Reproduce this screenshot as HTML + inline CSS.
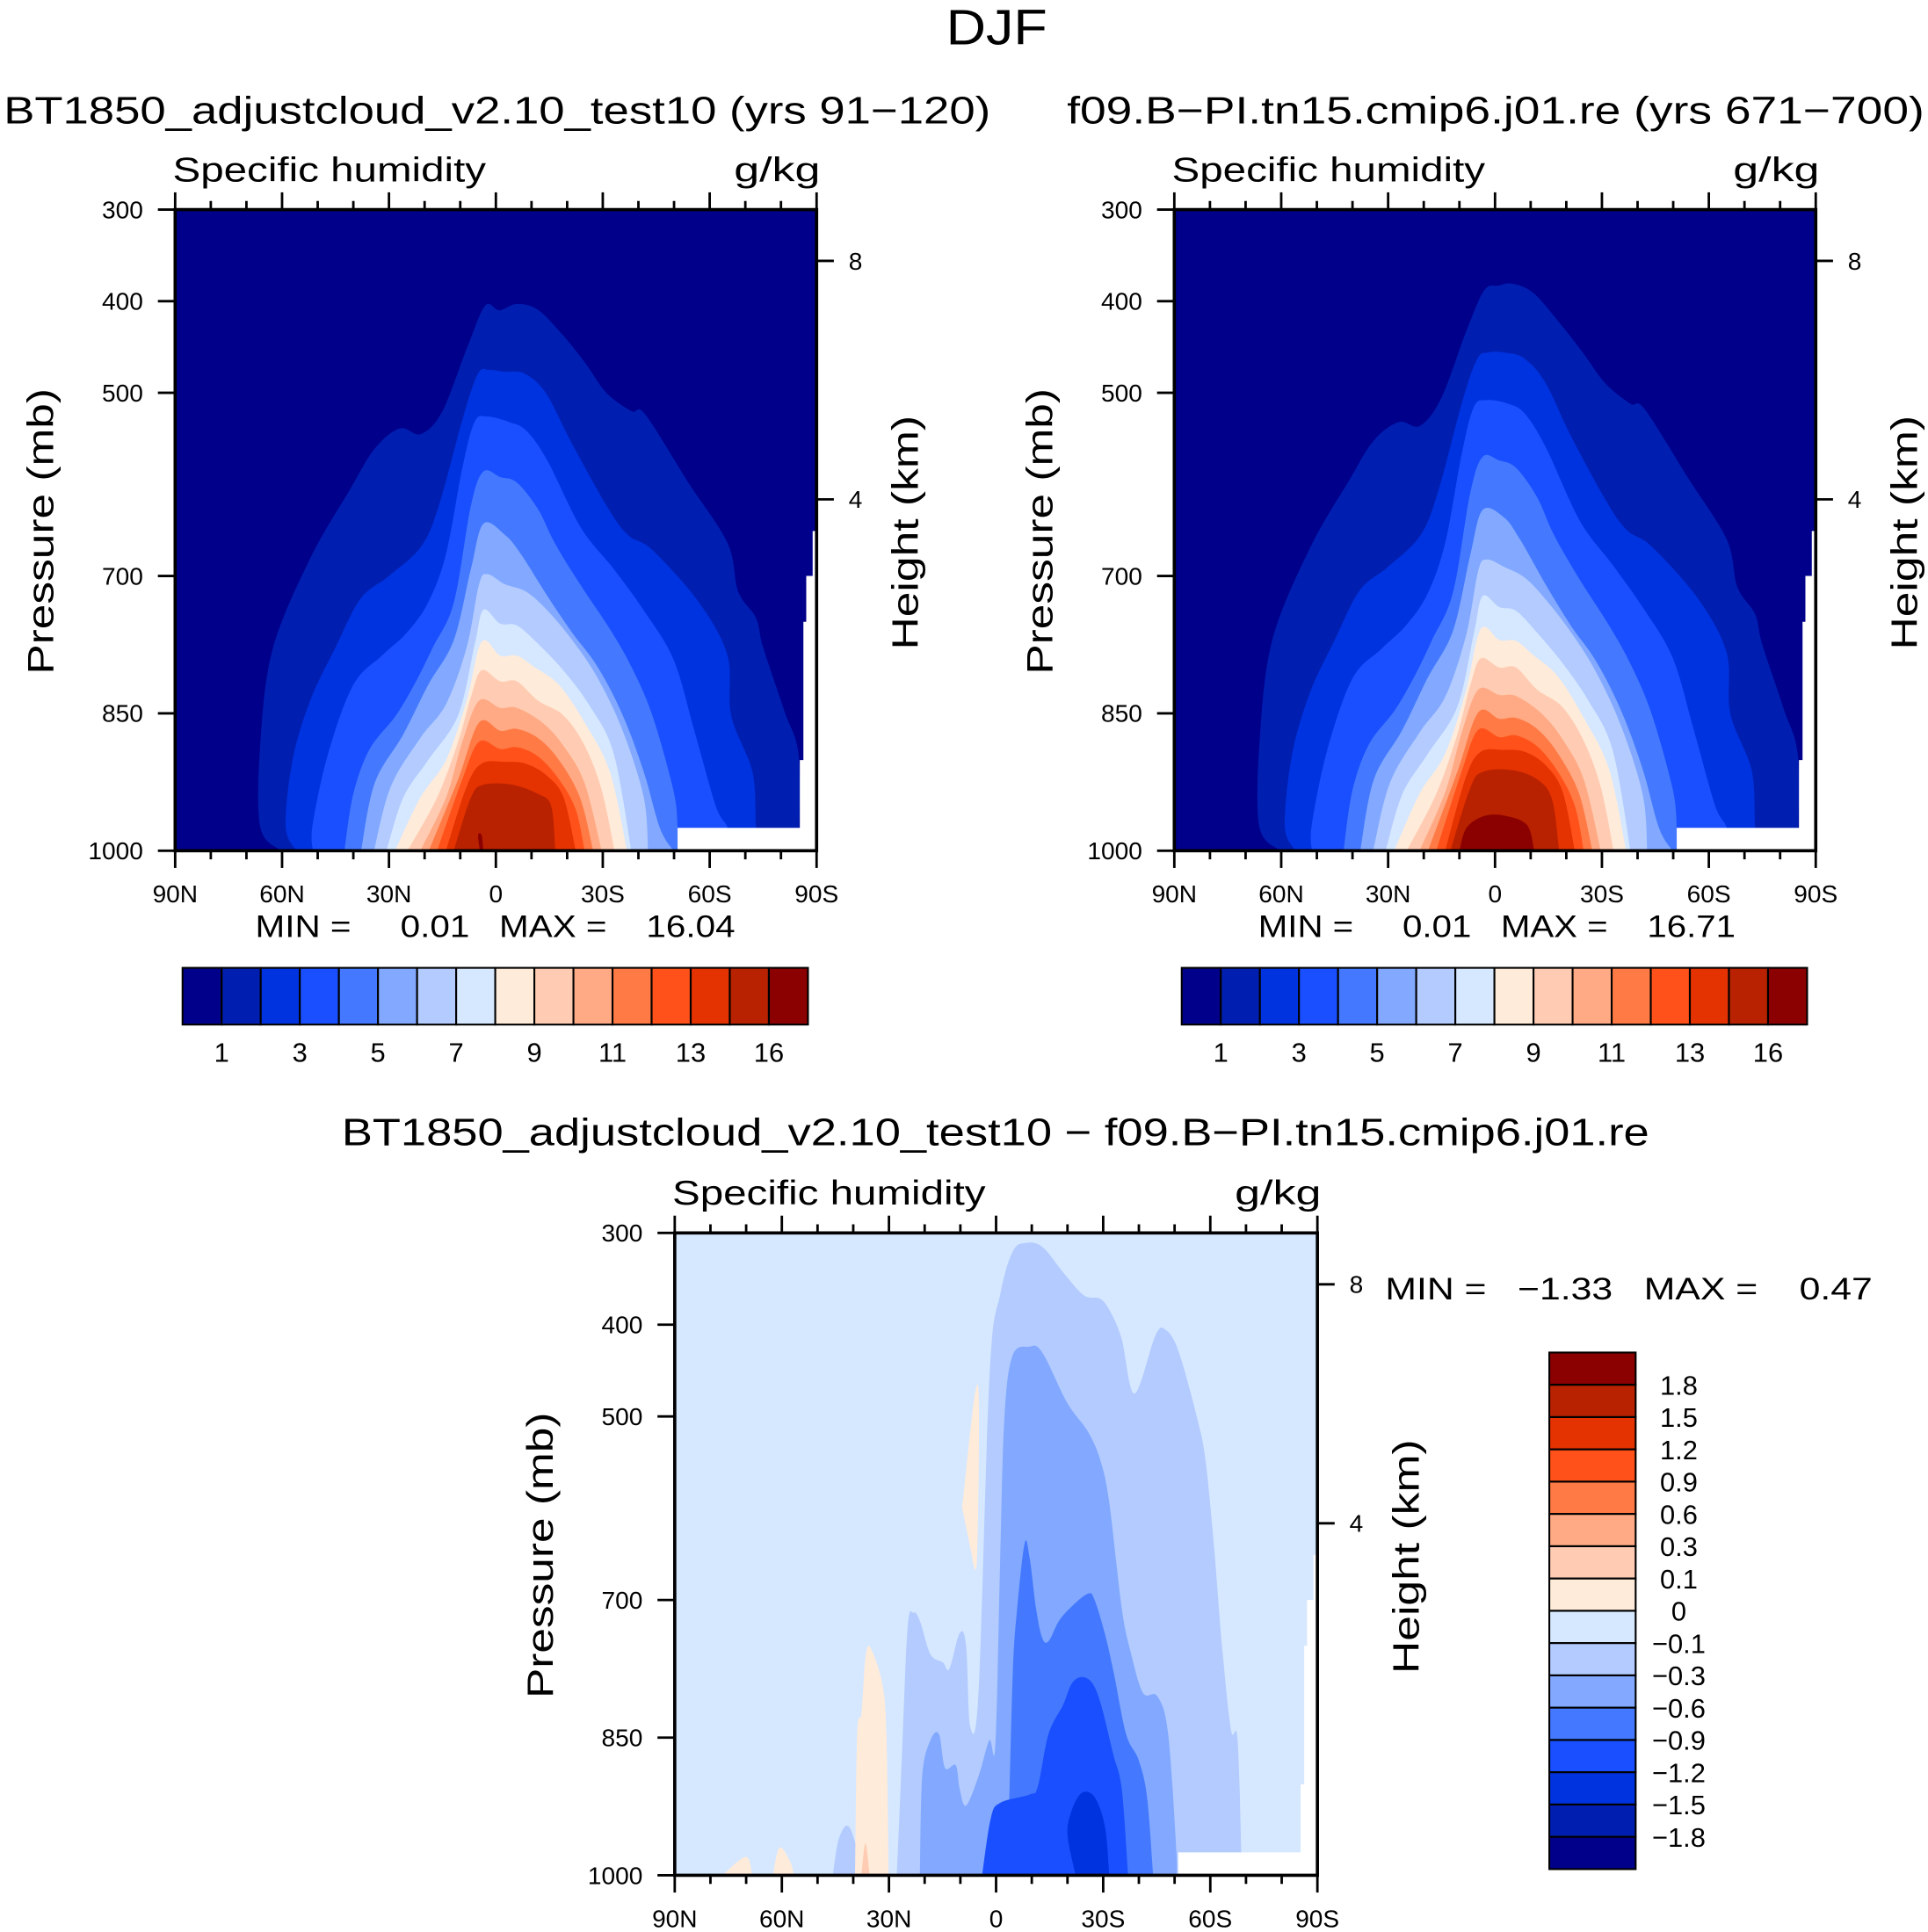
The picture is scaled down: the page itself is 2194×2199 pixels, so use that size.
<!DOCTYPE html>
<html><head><meta charset="utf-8"><title>DJF Specific humidity</title>
<style>html,body{margin:0;padding:0;background:#fff}svg{display:block}text{font-family:"Liberation Sans",sans-serif;fill:#000}</style>
</head><body>
<svg id="fig" xmlns="http://www.w3.org/2000/svg" width="2194" height="2199" viewBox="0 0 1563 1567" preserveAspectRatio="none">
<text x="808" y="36" font-size="40" text-anchor="middle" textLength="82" lengthAdjust="spacingAndGlyphs">DJF</text>
<text x="3" y="100" font-size="31" textLength="800" lengthAdjust="spacingAndGlyphs">BT1850_adjustcloud_v2.10_test10 (yrs 91−120)</text>
<text x="865" y="100" font-size="31" textLength="695" lengthAdjust="spacingAndGlyphs">f09.B−PI.tn15.cmip6.j01.re (yrs 671−700)</text>
<text x="277" y="929" font-size="31" textLength="1060" lengthAdjust="spacingAndGlyphs">BT1850_adjustcloud_v2.10_test10 − f09.B−PI.tn15.cmip6.j01.re</text>
<g id="layer"></g>
</svg>
<script>
// ---------- data ----------
const seqColors = ["#00008b","#001fb0","#0033e0","#1a4fff","#4479ff","#82a9ff","#b3cbff","#d6e8ff","#ffebd9","#ffccb3","#ffaa84","#ff7a45","#ff5119","#e43200","#b82200","#8b0000"];
const seqLabels = ["1","3","5","7","9","11","13","16"];
const diffLabels = ["1.8","1.5","1.2","0.9","0.6","0.3","0.1","0","−0.1","−0.3","−0.6","−0.9","−1.2","−1.5","−1.8"];
const latTicks = [90,60,30,0,-30,-60,-90];
const latTickLabels = ["90N","60N","30N","0","30S","60S","90S"];
const presTicks = [300,400,500,700,850,1000];
const heightTicks = [8,4];
const topoOutline = [[-51,1000],[-51,975],[-85.3,975],[-85.3,901],[-86.3,901],[-86.3,750],[-87.1,750],[-87.1,700],[-88.9,700],[-88.9,651],[-90,651],[-90,1000]];

const panel1Contours = [
 [1,[[60.3,1000],[66.2,973],[66,877],[62.5,778],[52,680],[41,606],[34,561],[27,539],[21,545],[15,520],[8,450],[3,405],[-1,410],[-6,403],[-12,410],[-19,438],[-25,467],[-31,500],[-38,520],[-42,524],[-54,598],[-65,664],[-68,717],[-73,746],[-75,778],[-81,848],[-85,897],[-85,1000]]],
 [2,[[56,1000],[59,973],[57,900],[52,835],[45,778],[38,725],[30,700],[21,668],[16,623],[9,524],[5,479],[2,475],[-2.5,477],[-8,479],[-14,500],[-21,553],[-31,623],[-37,655],[-44,672],[-57,729],[-65,787],[-66,852],[-72,914],[-73,975],[-74,1000]]],
 [3,[[51.4,1000],[51.4,971],[47,893],[40,819],[32,787],[25,762],[19,729],[14,676],[9.4,582],[6,532],[2.4,526],[-3.7,532],[-8.4,541],[-14.3,573],[-23.8,647],[-33,692],[-41.4,737],[-49.8,791],[-55.7,869],[-61.7,951],[-65,975],[-65,1000]]],
 [4,[[42.5,1000],[40,938],[35.4,889],[28,852],[22.4,815],[17.7,778],[11.8,729],[7,623],[3.5,586],[-1.2,592],[-5.9,598],[-11.8,627],[-16.5,664],[-23.6,709],[-32,758],[-38,799],[-43.9,852],[-49.8,934],[-51,975],[-51,1000]]],
 [5,[[37.8,1000],[34,926],[26,873],[19,819],[11.8,770],[7,692],[3.5,643],[-2.5,655],[-7,676],[-14.3,721],[-21.4,762],[-28.5,799],[-35.6,852],[-41.5,914],[-46,975],[-49.8,1000]]],
 [6,[[34.2,1000],[29.5,930],[21.2,877],[14,840],[8.2,778],[4.7,709],[2.3,698],[-2.5,709],[-8.4,717],[-14.3,737],[-21.4,770],[-28.5,811],[-35.6,869],[-41.5,942],[-42.7,1000]]],
 [7,[[30.7,1000],[26,942],[19,901],[10.6,852],[5.9,774],[3.5,737],[-1.2,752],[-5.9,754],[-11.8,774],[-18.9,803],[-26,840],[-33,893],[-38,1000]]],
 [8,[[28.3,1000],[21.2,942],[14,901],[8.2,836],[4,772],[-1.2,787],[-5.9,787],[-10.6,799],[-17.7,819],[-24.9,860],[-32,914],[-36.8,1000]]],
 [9,[[24.8,1000],[16.5,942],[10.6,881],[7,832],[4,803],[-1.2,815],[-5.9,815],[-11.8,836],[-18.9,852],[-24.9,885],[-29.7,934],[-33.3,1000]]],
 [10,[[21.2,1000],[14,942],[9.4,881],[4.7,836],[-1.2,844],[-5.9,844],[-13,860],[-18.9,885],[-24.9,926],[-29.7,1000]]],
 [11,[[18.8,1000],[10.6,922],[4.7,860],[-1.2,869],[-5.9,867],[-11.8,877],[-17.7,901],[-23.6,942],[-27.3,1000]]],
 [12,[[16.5,1000],[9.4,922],[4.7,881],[-1.2,889],[-5.9,887],[-11.8,897],[-17.7,922],[-22.4,955],[-24.9,1000]]],
 [13,[[14,1000],[8.2,930],[4,905],[-2.5,903],[-8.4,905],[-14.3,918],[-19,942],[-22.4,1000]]],
 [14,[[11.8,1000],[7,942],[3.5,928],[-4.7,928],[-11.8,938],[-15.5,951],[-16.7,1000]]],
 [15,[[4.5,1000],[5,983],[4,983],[3.5,1000]]]
];
const panel2Contours = [
 [1,[[60.3,1000],[66.2,973],[66,877],[62.5,770],[52,670],[41,596],[34,552],[27,532],[21,536],[15,505],[8,432],[3,388],[-1,383],[-5,381],[-11,392],[-19,428],[-25,458],[-31,490],[-38,512],[-42,518],[-54,592],[-65,660],[-68,712],[-73,742],[-75,775],[-81,845],[-85,897],[-85,1000]]],
 [2,[[56,1000],[59,973],[57,896],[52,828],[45,770],[38,716],[30,690],[21,656],[16,608],[9,507],[5,463],[2,456],[-2.5,456],[-8,462],[-14,488],[-21,545],[-31,617],[-37,650],[-44,668],[-57,725],[-65,784],[-66,850],[-72,912],[-73,975],[-74,1000]]],
 [3,[[51.4,1000],[51.4,971],[47,889],[40,812],[32,780],[25,754],[19,720],[14,664],[9.4,568],[6,516],[2.4,508],[-3.7,512],[-8.4,523],[-14.3,560],[-23.8,640],[-33,688],[-41.4,734],[-49.8,789],[-55.7,867],[-61.7,950],[-65,975],[-65,1000]]],
 [4,[[42.5,1000],[40,934],[35.4,884],[28,846],[22.4,808],[17.7,770],[11.8,718],[7,610],[3.5,570],[-1.2,574],[-5.9,582],[-11.8,614],[-16.5,655],[-23.6,703],[-32,754],[-38,796],[-43.9,850],[-49.8,932],[-51,975],[-51,1000]]],
 [5,[[37.8,1000],[34,922],[26,868],[19,812],[11.8,760],[7,678],[3.5,628],[-2.5,636],[-7,660],[-14.3,710],[-21.4,755],[-28.5,794],[-35.6,849],[-41.5,912],[-46,975],[-49.8,1000]]],
 [6,[[34.2,1000],[29.5,926],[21.2,871],[14,832],[8.2,766],[4.7,694],[2.3,682],[-2.5,690],[-8.4,702],[-14.3,726],[-21.4,762],[-28.5,806],[-35.6,866],[-41.5,940],[-42.7,1000]]],
 [7,[[30.7,1000],[26,938],[19,895],[10.6,843],[5.9,762],[3.5,722],[-1.2,734],[-5.9,738],[-11.8,762],[-18.9,795],[-26,835],[-33,890],[-38,1000]]],
 [8,[[28.3,1000],[21.2,938],[14,894],[8.2,826],[4,758],[-1.2,770],[-5.9,771],[-10.6,786],[-17.7,810],[-24.9,855],[-32,911],[-36.8,1000]]],
 [9,[[24.8,1000],[16.5,938],[10.6,873],[7,820],[4,790],[-1.2,800],[-5.9,800],[-11.8,824],[-18.9,843],[-24.9,880],[-29.7,931],[-33.3,1000]]],
 [10,[[21.2,1000],[14,936],[9.4,872],[4.7,824],[-1.2,830],[-5.9,831],[-13,850],[-18.9,878],[-24.9,922],[-29.7,1000]]],
 [11,[[18.8,1000],[10.6,914],[4.7,849],[-1.2,856],[-5.9,855],[-11.8,867],[-17.7,894],[-23.6,938],[-27.3,1000]]],
 [12,[[16.5,1000],[9.4,914],[4.7,868],[-1.2,876],[-5.9,874],[-11.8,886],[-17.7,914],[-22.4,951],[-24.9,1000]]],
 [13,[[14,1000],[8.2,920],[4,892],[-2.5,890],[-8.4,892],[-14.3,907],[-19,936],[-22.4,1000]]],
 [14,[[12.5,1000],[7,932],[3.5,914],[-4.7,912],[-11.8,922],[-16,944],[-18,1000]]],
 [15,[[10,1000],[8,975],[3,962],[-3,962],[-9,972],[-11,1000]]]
];
const panel3Contours = [
 [6,[[27.8,1000],[26.6,892],[24.8,732],[23.1,714],[21.3,723],[18.4,759],[14.9,768],[13.1,775],[10.2,736],[8.4,750],[7.3,837],[4.9,800],[1.8,453],[-1.2,366],[-4.7,320],[-8.2,311],[-12.9,315],[-18.8,343],[-24.6,368],[-29.3,372],[-32.3,388],[-35.2,416],[-38.8,475],[-44.7,411],[-47.6,406],[-51.1,429],[-56.4,503],[-58.7,549],[-61.1,645],[-63.4,755],[-65.8,842],[-67.6,851],[-68.7,975],[-68.7,1000]]],
 [6,[[45.7,1000],[44,960],[41,948],[37,1000]]],
 [5,[[21.3,1000],[20.7,892],[18.4,853],[16,846],[14.3,883],[11.3,880],[10.2,906],[8.4,924],[4.9,892],[1.9,853],[0.2,858],[-1.1,663],[-2.3,503],[-4.6,434],[-9.3,424],[-12.9,430],[-19.9,485],[-25.8,517],[-29.3,549],[-31.7,594],[-35.2,709],[-37.6,755],[-41.1,801],[-45.2,805],[-48.2,846],[-50.5,975],[-50.5,1000]]],
 [4,[[-2.3,1000],[-3.5,938],[-4.7,778],[-5.9,709],[-8,638],[-9.4,654],[-11.2,709],[-12.9,741],[-14.7,745],[-17.6,723],[-21.2,707],[-25.8,693],[-27.6,700],[-30.5,737],[-32.9,778],[-36.4,846],[-39.9,874],[-42.3,915],[-44,1000]]],
 [3,[[3.9,1000],[1.5,938],[-1.2,921],[-9.4,912],[-11.7,903],[-14.7,846],[-18.8,814],[-21.2,791],[-24.1,784],[-27,791],[-29.4,814],[-32.9,869],[-35.2,906],[-37,1000]]],
 [2,[[-22.3,1000],[-20,956],[-21.2,929],[-24.1,910],[-27.6,915],[-30.5,947],[-31.7,1000]]],
 [8,[[39.5,1000],[38.9,846],[37.7,823],[36.6,763],[35.2,752],[31.9,791],[30.7,846],[30.1,1000]]],
 [8,[[9.5,599],[6,478],[4.8,489],[5.4,658],[7.1,645]]],
 [8,[[76.6,1000],[70.1,980],[68.3,1000]]],
 [8,[[62.5,1000],[60.7,970],[57.8,984],[56.6,1000]]],
 [9,[[37.7,1000],[36.6,965],[35.4,1000]]]
];

// ---------- drawing ----------
const NS = "http://www.w3.org/2000/svg";
const layer = document.getElementById('layer');
function mk(tag, attrs, parent){ const e=document.createElementNS(NS,tag); for(const k in attrs) e.setAttribute(k,attrs[k]); (parent||layer).appendChild(e); return e; }
function xScale(P,lat){ return P.x0 + (90-lat)/180*P.w; }
function yScale(P,p){ return P.y0 + (p-300)/700*P.h; }
function hToP(km){ return 1013.25*Math.pow(1-2.2557e-5*km*1000,5.256); }
function smoothPath(pts){
  let d = "M"+pts[0][0].toFixed(1)+","+pts[0][1].toFixed(1);
  for(let i=0;i<pts.length-1;i++){
    const p0=pts[Math.max(0,i-1)],p1=pts[i],p2=pts[i+1],p3=pts[Math.min(pts.length-1,i+2)];
    const c1x=p1[0]+(p2[0]-p0[0])/6,c1y=p1[1]+(p2[1]-p0[1])/6,c2x=p2[0]-(p3[0]-p1[0])/6,c2y=p2[1]-(p3[1]-p1[1])/6;
    d+="C"+c1x.toFixed(1)+","+c1y.toFixed(1)+" "+c2x.toFixed(1)+","+c2y.toFixed(1)+" "+p2[0].toFixed(1)+","+p2[1].toFixed(1);
  }
  return d+"Z";
}
function drawPanel(P){
  const g = mk('g',{});
  
  
  const clip = mk('clipPath',{id:'clip'+P.id}, g);
  mk('rect',{x:P.x0,y:P.y0,width:P.w,height:P.h},clip);
  const plot = mk('g',{'clip-path':'url(#clip'+P.id+')'},g);
  const bg = mk('rect',{x:P.x0,y:P.y0,width:P.w,height:P.h,fill:seqColors[P.bg]},plot);
  
  
  P.contours.forEach(function(c,i){
    const pts = c[1].map(function(q){return [xScale(P,q[0]), yScale(P,q[1])];});
    const path = mk('path',{d:smoothPath(pts),fill:seqColors[c[0]]},plot);
    
    
  });
  const topo = mk('polygon',{points:topoOutline.map(function(q){return xScale(P,q[0]).toFixed(1)+","+yScale(P,q[1]).toFixed(1);}).join(" "),fill:"#fff"},plot);
  
  
  const frame = mk('rect',{x:P.x0,y:P.y0,width:P.w,height:P.h,fill:"none",stroke:"#000","stroke-width":2.6},g);
  
  
  const xb = P.y0+P.h, xt = P.y0;
  for(let lat=90;lat>=-90;lat-=10){
    const x = xScale(P,lat), major = (lat%30===0), L = major?14:7;
    mk('line',{x1:x,y1:xb,x2:x,y2:xb+L,stroke:"#000","stroke-width":2},g);
    mk('line',{x1:x,y1:xt,x2:x,y2:xt-L,stroke:"#000","stroke-width":2},g);
  }
  latTicks.forEach(function(lat,i){
    const t = mk('text',{x:xScale(P,lat),y:xb+42,'font-size':20,'text-anchor':'middle'},g);
    
    
    t.textContent = latTickLabels[i];
  });
  presTicks.forEach(function(p){
    const y = yScale(P,p);
    mk('line',{x1:P.x0,y1:y,x2:P.x0-14,y2:y,stroke:"#000","stroke-width":2},g);
    const t = mk('text',{x:P.x0-26,y:y+7,'font-size':20,'text-anchor':'end'},g);
    
    
    t.textContent = String(p);
  });
  heightTicks.forEach(function(h){
    const y = yScale(P,hToP(h)), xr = P.x0+P.w;
    mk('line',{x1:xr,y1:y,x2:xr+14,y2:y,stroke:"#000","stroke-width":2},g);
    const t = mk('text',{x:xr+26,y:y+7,'font-size':20},g);
    
    
    t.textContent = String(h);
  });
  const cy = P.y0+P.h/2;
  let t = mk('text',{x:0,y:0,'font-size':30,'text-anchor':'middle',textLength:232,lengthAdjust:'spacingAndGlyphs',transform:'translate('+(P.x0-99)+','+(cy+1)+') rotate(-90)'},g);
  
  
  t.textContent='Pressure (mb)';
  t = mk('text',{x:0,y:0,'font-size':30,'text-anchor':'middle',textLength:190,lengthAdjust:'spacingAndGlyphs',transform:'translate('+(P.x0+P.w+82)+','+(cy+2)+') rotate(-90)'},g);
  
  
  t.textContent='Height (km)';
  t = mk('text',{x:P.x0-2,y:P.y0-23,'font-size':28,textLength:254,lengthAdjust:'spacingAndGlyphs'},g);
  
  
  t.textContent='Specific humidity';
  t = mk('text',{x:P.x0+P.w+3,y:P.y0-23,'font-size':28,'text-anchor':'end',textLength:70,lengthAdjust:'spacingAndGlyphs'},g);
  
  
  t.textContent='g/kg';
  t = mk('text',{x:P.mmX,y:P.mmY,'font-size':25,style:'white-space:pre',textLength:P.mmW,lengthAdjust:'spacingAndGlyphs'},g);
  
  
  t.textContent=P.mm;
}
const panels = [
 {id:1,name:'panel-case',x0:142,y0:170,w:520,h:520,bg:0,contours:panel1Contours,mm:'MIN =     0.01   MAX =    16.04',mmX:207,mmY:760,mmW:389},
 {id:2,name:'panel-control',x0:952,y0:170,w:520,h:520,bg:0,contours:panel2Contours,mm:'MIN =     0.01   MAX =    16.71',mmX:1020,mmY:760,mmW:387},
 {id:3,name:'panel-difference',x0:547,y0:1000,w:521,h:521,bg:7,contours:panel3Contours,mm:'MIN =   −1.33   MAX =    0.47',mmX:1123,mmY:1054,mmW:395}
];
panels.forEach(drawPanel);

function hColorbar(x0,y0,w,h,name){
  const g = mk('g',{});
  
  
  const bw = w/seqColors.length;
  seqColors.forEach(function(c,i){
    const r = mk('rect',{x:x0+i*bw,y:y0,width:bw,height:h,fill:c,stroke:'#000','stroke-width':1.5},g);
    
    
  });
  seqLabels.forEach(function(l,i){
    const t = mk('text',{x:x0+(2*i+1)*bw,y:y0+h+30,'font-size':22,'text-anchor':'middle'},g);
    
    
    t.textContent=l;
  });
}
hColorbar(148,785,507,46,'colorbar-case');
hColorbar(958,785,507,46,'colorbar-control');
(function(){
  const x0=1256,y0=1097,w=70,h=419;
  const g = mk('g',{});
  
  
  const bh = h/seqColors.length;
  seqColors.slice().reverse().forEach(function(c,i){
    const r = mk('rect',{x:x0,y:y0+i*bh,width:w,height:bh,fill:c,stroke:'#000','stroke-width':1.5},g);
    
    
  });
  diffLabels.forEach(function(l,i){
    const t = mk('text',{x:1361,y:y0+(i+1)*bh+8,'font-size':22,'text-anchor':'middle'},g);
    
    
    t.textContent=l;
  });
})();
</script>
</body></html>
